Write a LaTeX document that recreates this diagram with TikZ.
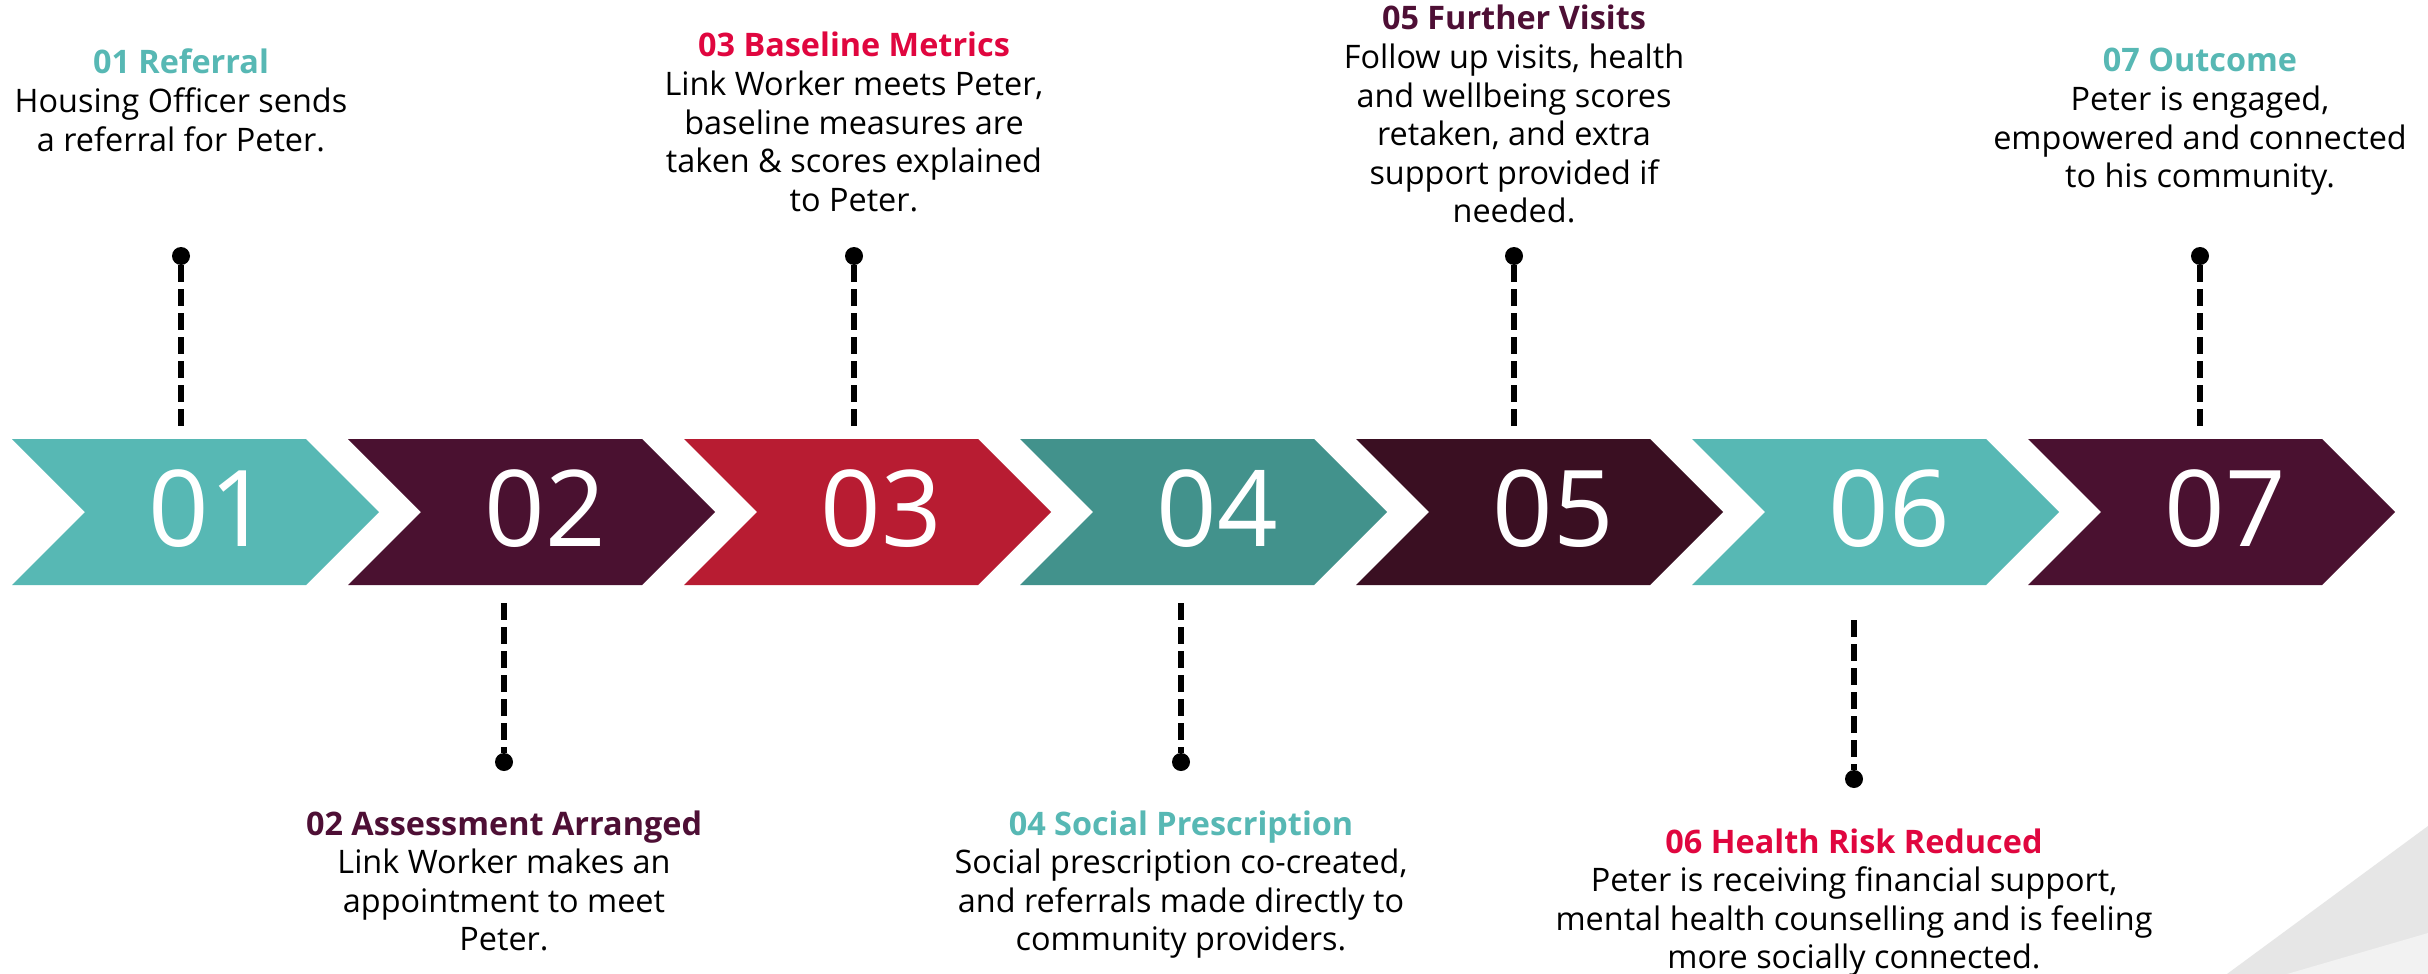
\documentclass[tikz,border=0pt]{standalone}
\usepackage{fontspec}
\setmainfont{Open Sans}
\definecolor{cteal}{HTML}{57B8B4}
\definecolor{cmaroon}{HTML}{4A1130}
\definecolor{cred}{HTML}{B81C32}
\definecolor{cdteal}{HTML}{42928C}
\definecolor{cdmaroon}{HTML}{3A0F22}
\definecolor{ctred}{HTML}{E0063F}
\definecolor{ctmaroon}{HTML}{4E0F35}
\definecolor{gdark}{HTML}{E6E6E6}
\definecolor{glight}{HTML}{F2F2F2}
\newcommand{\steptext}[2]{{\fontsize{32.4}{38.6}\selectfont\begin{tabular}[t]{@{}c@{}}#1\\#2\end{tabular}}}
\begin{document}
\begin{tikzpicture}[x=1pt,y=-1pt,
  numtxt/.style={anchor=base,inner sep=0pt,text=white,font=\fontsize{106}{120}\selectfont},
  txtblock/.style={anchor=base,inner sep=0pt},
  dotn/.style={circle,fill=black,inner sep=0pt,minimum size=18pt},
  dashline/.style={line width=6pt,dash pattern=on 17pt off 7pt,line cap=butt}]
\useasboundingbox (0,0) rectangle (2428,974);
\fill[white] (0,0) rectangle (2428,974);
% background corner
\fill[gdark] (2227,974) -- (2428,826) -- (2428,974) -- cycle;
\fill[glight] (2287,974) -- (2428,933) -- (2428,974) -- cycle;
% chevrons
\foreach \i/\c/\n in {0/cteal/01,1/cmaroon/02,2/cred/03,3/cdteal/04,4/cdmaroon/05,5/cteal/06,6/cmaroon/07} {
  \pgfmathsetmacro\L{12+336*\i}
  \fill[\c] (\L,439) -- ++(294,0) -- ++(73,73) -- ++(-73,73) -- ++(-294,0) -- ++(73,-73) -- cycle;
  \node[numtxt] (n\n) at (\L+197,546) {\n};
}
% top markers
\foreach \k/\x in {1/181,3/854,5/1514,7/2200} {
  \node[dotn] (p\k) at (\x,256) {};
  \coordinate (q\k) at (\x,431);
  \draw[dashline] (p\k) -- (q\k);
}
% bottom markers
\foreach \k/\x/\ys/\yd in {2/504/603/762,4/1181/603/762,6/1854/620/779} {
  \node[dotn] (p\k) at (\x,\yd) {};
  \coordinate (q\k) at (\x,\ys);
  \draw[dashline] (q\k) -- (p\k);
}
% texts
\node[txtblock] (t1) at (181,74) {\steptext{\textcolor{cteal}{\bfseries 01 Referral}}{Housing Officer sends\\a referral for Peter.}};
\node[txtblock] (t3) at (854,57) {\steptext{\textcolor{ctred}{\bfseries 03 Baseline Metrics}}{Link Worker meets Peter,\\baseline measures are\\taken \& scores explained\\to Peter.}};
\node[txtblock] (t5) at (1514,30) {\steptext{\textcolor{ctmaroon}{\bfseries 05 Further Visits}}{Follow up visits, health\\and wellbeing scores\\retaken, and extra\\support provided if\\needed.}};
\node[txtblock] (t7) at (2200,72) {\steptext{\textcolor{cteal}{\bfseries 07 Outcome}}{Peter is engaged,\\empowered and connected\\to his community.}};
\node[txtblock] (t2) at (504,835) {\steptext{\textcolor{ctmaroon}{\bfseries 02 Assessment Arranged}}{Link Worker makes an\\appointment to meet\\Peter.}};
\node[txtblock] (t4) at (1181,835) {\steptext{\textcolor{cteal}{\bfseries 04 Social Prescription}}{Social prescription co-created,\\and referrals made directly to\\community providers.}};
\node[txtblock] (t6) at (1854,853) {\steptext{\textcolor{ctred}{\bfseries 06 Health Risk Reduced}}{Peter is receiving financial support,\\mental health counselling and is feeling\\more socially connected.}};
\end{tikzpicture}
\end{document}
